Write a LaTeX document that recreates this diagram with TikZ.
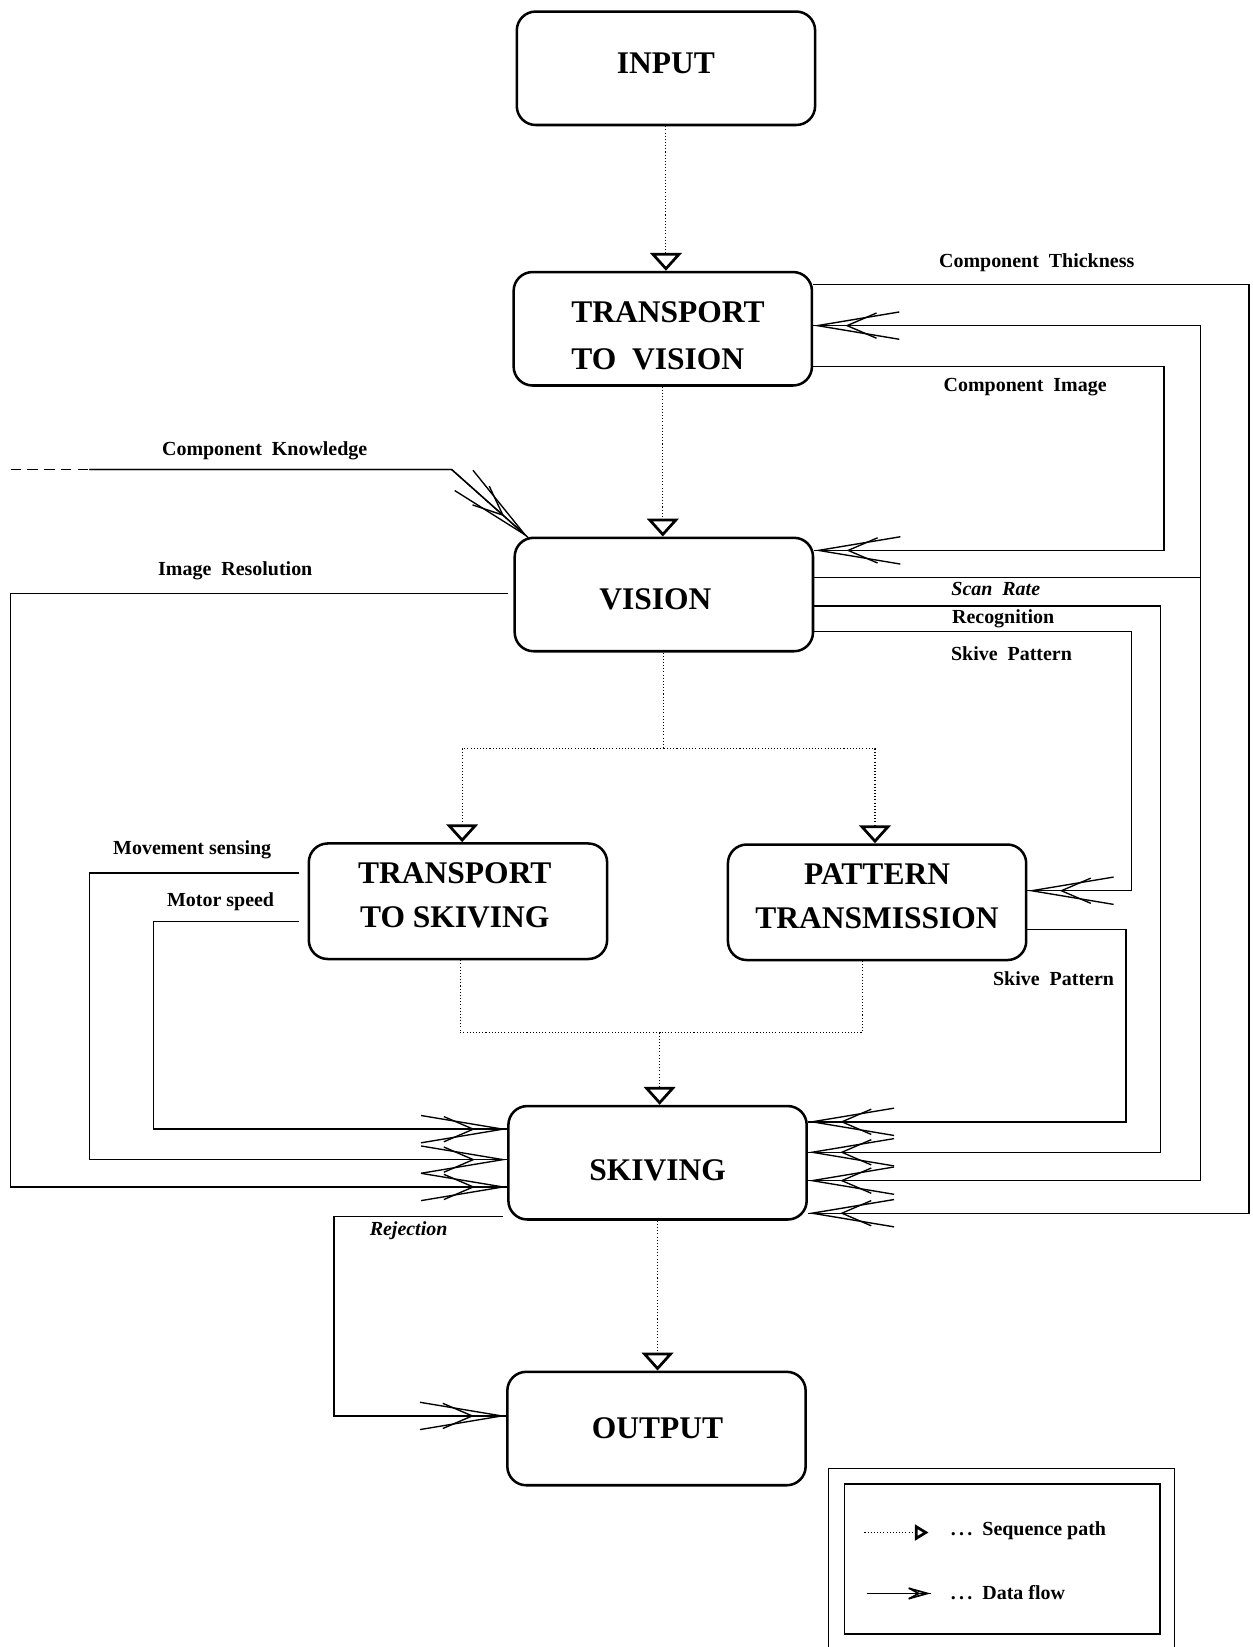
\documentclass[tikz,border=0pt]{standalone}
\usepackage{fontspec}
\setmainfont{Liberation Serif}
\usetikzlibrary{arrows.meta,calc}
\begin{document}
\begin{tikzpicture}[x=1pt,y=-1pt,
  box/.style={draw, line width=2.4pt, rounded corners=18pt, minimum width=284pt, minimum height=108pt, inner sep=0pt},
  boxtext/.style={inner sep=0pt, align=center, font=\fontsize{30}{42}\selectfont\bfseries},
  lab/.style={inner sep=0pt, font=\fontsize{19}{22}\selectfont\bfseries},
  seqline/.style={line width=1pt, dash pattern=on 1pt off 2pt},
  seq/.style={seqline, -{Triangle[open, length=17pt, width=30pt, line width=2.6pt]}},
  flow/.style={line width=1.3pt},
  data/.style={flow, -{Straight Barb[length=28pt,width=24pt,sep=-52pt]Straight Barb[length=78pt,width=26pt]}, postaction={draw, arrows=-}},
]
\useasboundingbox (0,0) rectangle (1192,1568);

% boxes
\node[box] (in) at (634,65) {};
\node[boxtext] (inT) at (634,60) {INPUT};
\node[box] (tv) at (631,313) {};
\node[boxtext, align=left, font=\fontsize{30}{45}\selectfont\bfseries] (tvT) at (636,320) {TRANSPORT\\TO~~VISION};
\node[box] (vis) at (632,566) {};
\node[boxtext] (visT) at (624,571) {VISION};
\node[box, minimum height=110pt] (ts) at (436,858) {};
\node[boxtext] (tsT) at (433,852) {TRANSPORT\\TO SKIVING};
\node[box, minimum height=110pt] (pt) at (835,859) {};
\node[boxtext] (ptT) at (835,853) {PATTERN\\TRANSMISSION};
\node[box] (sk) at (626,1107) {};
\node[boxtext] (skT) at (626,1114) {SKIVING};
\node[box] (out) at (625,1360) {};
\node[boxtext] (outT) at (626,1360) {OUTPUT};

% sequence paths
\draw[seq] (in.south) -- (in.south |- tv.north);
\draw[seq] (tv.south) -- (tv.south |- vis.north);
\coordinate (split) at (632,713);
\draw[seqline] (vis.south) -- (split);
\draw[seq] (split) -| ($(ts.north)+(4,0)$);
\draw[seq] (split) -| ($(pt.north)+(-2,0)$);
\coordinate (join) at (628,983);
\draw[seqline] ($(ts.south)+(2,0)$) |- (join) -| ($(pt.south)+(-14,0)$);
\draw[seq] (join) -- (join |- sk.north);
\draw[seq] (sk.south) -- (sk.south |- out.north);

% right side data flows
\coordinate (th1) at (1189,271); \coordinate (th2) at (1189,1155);
\draw[data] (tv.east |- th1) -- (th1) -- (th2) -- (sk.east |- th2);
\coordinate (sr) at (1143,550); \coordinate (sr1) at (1143,310); \coordinate (sr2) at (1143,1124);
\draw[flow] (vis.east |- sr) -- (sr);
\draw[data] (sr) -- (sr1) -- (tv.east |- sr1);
\draw[data] (sr) -- (sr2) -- (sk.east |- sr2);
\coordinate (ci1) at (1108,349); \coordinate (ci2) at (1108,524);
\draw[data] (tv.east |- ci1) -- (ci1) -- (ci2) -- (vis.east |- ci2);
\coordinate (rc1) at (1105,577); \coordinate (rc2) at (1105,1097);
\draw[data] (vis.east |- rc1) -- (rc1) -- (rc2) -- (sk.east |- rc2);
\coordinate (sp1) at (1077,601); \coordinate (sp2) at (1077,848);
\draw[data] (vis.east |- sp1) -- (sp1) -- (sp2) -- (pt.east |- sp2);
\coordinate (ps1) at (1072,885); \coordinate (ps2) at (1072,1068);
\draw[data] (pt.east |- ps1) -- (ps1) -- (ps2) -- (sk.east |- ps2);

% left side data flows
\coordinate (ck0) at (10,447); \coordinate (ck1) at (85,447); \coordinate (ck2) at (430,447);
\draw[flow, dash pattern=on 10pt off 6pt] (ck0) -- (ck1);
\draw[data] (ck1) -- (ck2) -- ($(vis.north west)+(14,1)$);
\coordinate (ir1) at (10,565); \coordinate (ir2) at (10,1130);
\draw[data] ($(vis.west |- ir1)+(-5,0)$) -- (ir1) -- (ir2) -- (sk.west |- ir2);
\coordinate (ms1) at (85,831); \coordinate (ms2) at (85,1104);
\draw[data] ($(ts.west |- ms1)+(-8,0)$) -- (ms1) -- (ms2) -- (sk.west |- ms2);
\coordinate (mt1) at (146,877); \coordinate (mt2) at (146,1075);
\draw[data] ($(ts.west |- mt1)+(-8,0)$) -- (mt1) -- (mt2) -- (sk.west |- mt2);
\coordinate (rj1) at (318,1158); \coordinate (rj2) at (318,1348);
\draw[data] ($(sk.west |- rj1)+(-4,0)$) -- (rj1) -- (rj2) -- (out.west |- rj2);

% labels
\node[lab] (l1) at (987,250) {Component~~Thickness};
\node[lab] (l2) at (976,369) {Component~~Image};
\node[lab] (l3) at (252,429) {Component~~Knowledge};
\node[lab] (l4) at (224,543) {Image~~Resolution};
\node[lab, font=\fontsize{19}{22}\selectfont\bfseries\itshape] (l5) at (948,561) {Scan~~Rate};
\node[lab] (l6) at (955,589) {Recognition};
\node[lab] (l7) at (963,622) {Skive~~Pattern};
\node[lab] (l8) at (183,809) {Movement sensing};
\node[lab] (l9) at (210,858) {Motor speed};
\node[lab] (l10) at (1003,932) {Skive~~Pattern};
\node[lab, font=\fontsize{19}{22}\selectfont\bfseries\itshape] (l11) at (389,1172) {Rejection};

% legend
\draw[line width=1pt] (789,1580) -- (789,1398) -- (1118,1398) -- (1118,1580);
\draw[line width=1.8pt] (804,1413) rectangle (1104,1556);
\coordinate (lg1) at (823,1459); \coordinate (lg2) at (884,1459);
\draw[seqline, -{Triangle[open, length=13pt, width=15pt, line width=2.6pt]}] (lg1) -- (lg2);
\node[lab, anchor=west] (lt1) at (905,1457) {.\,.\,.~~Sequence path};
\coordinate (lg3) at (825,1517); \coordinate (lg4) at (886,1517);
\draw[line width=1.6pt, -{Straight Barb[length=9pt,width=10pt,sep=-12pt]Straight Barb[length=18pt,width=10pt]}, postaction={draw, arrows=-}] (lg3) -- (lg4);
\node[lab, anchor=west] (lt2) at (905,1516) {.\,.\,.~~Data flow};
\end{tikzpicture}
\end{document}
